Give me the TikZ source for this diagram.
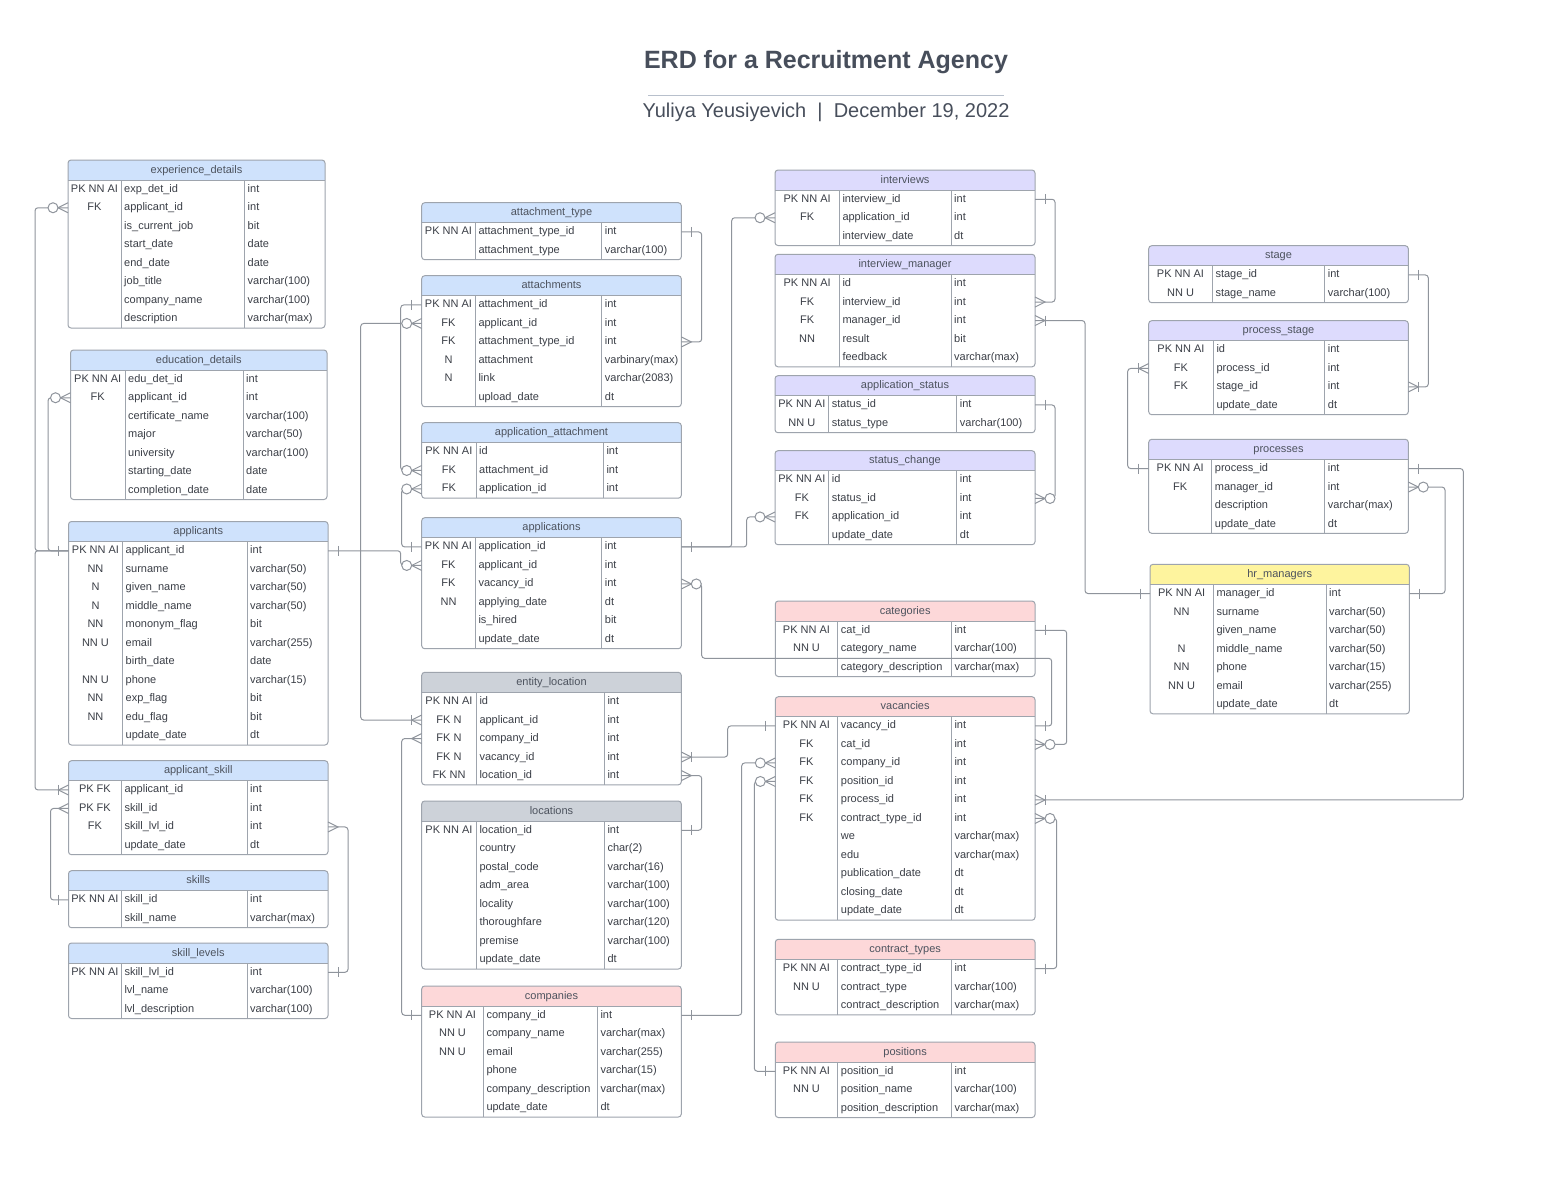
\documentclass[tikz,border=0pt]{standalone}
\usepackage{fontspec}
\setmainfont{Liberation Sans}
\definecolor{hblue}{HTML}{CFE2FC}
\definecolor{hpurple}{HTML}{DDDBFD}
\definecolor{hgray}{HTML}{CDD2D9}
\definecolor{hpink}{HTML}{FDD8D9}
\definecolor{hyellow}{HTML}{FEF49E}
\definecolor{bordercol}{HTML}{9EA4AD}
\definecolor{conncol}{HTML}{8F949C}
\definecolor{celltext}{HTML}{3B3F47}
\definecolor{hdrtextcol}{HTML}{4D535E}
\definecolor{titlecol}{HTML}{474E5B}
\definecolor{rulecol}{HTML}{B8C0CC}
\tikzset{
  cell/.style={inner sep=0pt, text height=8pt, text depth=2pt, font=\fontsize{11}{13}\selectfont, text=celltext},
  hdrtext/.style={inner sep=0pt, text height=8pt, text depth=2pt, font=\fontsize{11}{13}\selectfont, text=hdrtextcol},
  rownode/.style={inner sep=0pt, outer sep=0pt, minimum height=18.5pt, draw=none},
  tblline/.style={draw=bordercol, line width=1pt},
  conn/.style={draw=conncol, line width=1pt},
  link/.style={conn, rounded corners=3pt},
  erone/.pic={\draw[conn] (10,-5) -- (10,5);},
  ermany/.pic={\draw[conn] (0,-5) -- (10,0) -- (0,5);},
  erom/.pic={\draw[conn] (0,-5) -- (10,0) -- (0,5); \draw[conn] (10,-5) -- (10,5);},
  erzm/.pic={\draw[conn] (0,-5) -- (10,0) -- (0,5); \draw[conn, fill=white] (15,0) circle (5pt);},
}
% #1 name, #2 left, #3 right, #4 top, #5 key end, #6 type start, #7 colour, #8 title, #9 rows
\newcommand\ertable[9]{%
  \gdef\ernrows{0}%
  \foreach \dummy [count=\ii] in {#9} {\xdef\ernrows{\ii}}%
  \pgfmathsetmacro\erbot{#4+20+18.5*\ernrows}%
  \pgfmathsetmacro\erW{#3-#2}%
  \pgfmathsetmacro\erhb{#4+20}%
  \fill[white, rounded corners=3pt] (#2,#4) rectangle (#3,\erbot);
  \begin{scope}
    \clip[rounded corners=3pt] (#2,#4) rectangle (#3,\erbot);
    \fill[#7] (#2,#4) rectangle (#3,\erhb);
  \end{scope}
  \draw[tblline] (#2,\erhb) -- (#3,\erhb);
  \draw[tblline] (#5,\erhb) -- (#5,\erbot);
  \draw[tblline] (#6,\erhb) -- (#6,\erbot);
  \draw[tblline, rounded corners=3pt] (#2,#4) rectangle (#3,\erbot);
  \node[hdrtext] at ({(#2+#3)/2},#4+10) {#8};
  \foreach \k/\n/\t [count=\i] in {#9} {
    \pgfmathsetmacro\yy{#4+20+18.5*(\i-0.5)}
    \node[rownode, minimum width=\erW pt] (#1-\i) at ({(#2+#3)/2},\yy) {};
    \node[cell] at ({(#2+#5)/2},\yy) {\k};
    \node[cell, anchor=west] at (#5+3,\yy) {\n};
    \node[cell, anchor=west] at (#6+3,\yy) {\t};
  }
}
\begin{document}
\begin{tikzpicture}[x=1pt, y=-1pt]
\fill[white] (0,0) rectangle (1568,1176);
\useasboundingbox (0,0) rectangle (1568,1176);

% title
\node[font=\bfseries\fontsize{25}{29}\selectfont, text=titlecol] (title) at (826,62) {ERD for a Recruitment Agency};
\draw[draw=rulecol, line width=1pt] (648,95) -- (1004,95);
\node[font=\fontsize{20}{23}\selectfont, text=titlecol] (subtitle) at (826,112) {Yuliya Yeusiyevich\ \ |\ \ December 19, 2022};

% left column
\ertable{exp}{68}{325}{160}{121}{244.5}{hblue}{experience\_details}{PK NN AI/exp\_det\_id/int, FK/applicant\_id/int, /is\_current\_job/bit, /start\_date/date, /end\_date/date, /job\_title/varchar(100), /company\_name/varchar(100), /description/varchar(max)}
\ertable{edu}{70.5}{327}{350}{125}{243}{hblue}{education\_details}{PK NN AI/edu\_det\_id/int, FK/applicant\_id/int, /certificate\_name/varchar(100), /major/varchar(50), /university/varchar(100), /starting\_date/date, /completion\_date/date}
\ertable{app}{68.5}{328}{521.5}{122.5}{247}{hblue}{applicants}{PK NN AI/applicant\_id/int, NN/surname/varchar(50), N/given\_name/varchar(50), N/middle\_name/varchar(50), NN/mononym\_flag/bit, NN U/email/varchar(255), /birth\_date/date, NN U/phone/varchar(15), NN/exp\_flag/bit, NN/edu\_flag/bit, /update\_date/dt}
\ertable{appskill}{68.5}{328}{760.7}{121.3}{247}{hblue}{applicant\_skill}{PK FK/applicant\_id/int, PK FK/skill\_id/int, FK/skill\_lvl\_id/int, /update\_date/dt}
\ertable{skills}{68.5}{328}{870.7}{121.3}{247}{hblue}{skills}{PK NN AI/skill\_id/int, /skill\_name/varchar(max)}
\ertable{skilllv}{68.5}{328}{943}{121.3}{247}{hblue}{skill\_levels}{PK NN AI/skill\_lvl\_id/int, /lvl\_name/varchar(100), /lvl\_description/varchar(100)}

% second column
\ertable{atttype}{421.7}{681.3}{202.7}{475.3}{601.7}{hblue}{attachment\_type}{PK NN AI/attachment\_type\_id/int, /attachment\_type/varchar(100)}
\ertable{att}{421.7}{681.3}{275.7}{475.3}{601.7}{hblue}{attachments}{PK NN AI/attachment\_id/int, FK/applicant\_id/int, FK/attachment\_type\_id/int, N/attachment/varbinary(max), N/link/varchar(2083), /upload\_date/dt}
\ertable{appatt}{421.7}{681.3}{422.7}{476}{603.3}{hblue}{application\_attachment}{PK NN AI/id/int, FK/attachment\_id/int, FK/application\_id/int}
\ertable{apl}{421.7}{681.3}{517.7}{475.3}{601.7}{hblue}{applications}{PK NN AI/application\_id/int, FK/applicant\_id/int, FK/vacancy\_id/int, NN/applying\_date/dt, /is\_hired/bit, /update\_date/dt}
\ertable{entloc}{421.7}{681.3}{672.3}{476.3}{604.3}{hgray}{entity\_location}{PK NN AI/id/int, FK N/applicant\_id/int, FK N/company\_id/int, FK N/vacancy\_id/int, FK NN/location\_id/int}
\ertable{loc}{421.7}{681.3}{801}{476.3}{604.3}{hgray}{locations}{PK NN AI/location\_id/int, /country/char(2), /postal\_code/varchar(16), /adm\_area/varchar(100), /locality/varchar(100), /thoroughfare/varchar(120), /premise/varchar(100), /update\_date/dt}
\ertable{comp}{421.7}{681.3}{986}{483.3}{597.3}{hpink}{companies}{PK NN AI/company\_id/int, NN U/company\_name/varchar(max), NN U/email/varchar(255), /phone/varchar(15), /company\_description/varchar(max), /update\_date/dt}

% third column
\ertable{intv}{775}{1035}{170}{839.3}{951}{hpurple}{interviews}{PK NN AI/interview\_id/int, FK/application\_id/int, /interview\_date/dt}
\ertable{intmgr}{775}{1035}{254.3}{839.3}{951}{hpurple}{interview\_manager}{PK NN AI/id/int, FK/interview\_id/int, FK/manager\_id/int, NN/result/bit, /feedback/varchar(max)}
\ertable{appstat}{775}{1035}{375.7}{828.7}{956.7}{hpurple}{application\_status}{PK NN AI/status\_id/int, NN U/status\_type/varchar(100)}
\ertable{statch}{775}{1035}{450.7}{828.7}{956.7}{hpurple}{status\_change}{PK NN AI/id/int, FK/status\_id/int, FK/application\_id/int, /update\_date/dt}
\ertable{cat}{775.3}{1035}{601}{837.7}{951.3}{hpink}{categories}{PK NN AI/cat\_id/int, NN U/category\_name/varchar(100), /category\_description/varchar(max)}
\ertable{vac}{775.3}{1035}{696.7}{837.7}{951.3}{hpink}{vacancies}{PK NN AI/vacancy\_id/int, FK/cat\_id/int, FK/company\_id/int, FK/position\_id/int, FK/process\_id/int, FK/contract\_type\_id/int, /we/varchar(max), /edu/varchar(max), /publication\_date/dt, /closing\_date/dt, /update\_date/dt}
\ertable{ctype}{775.3}{1035}{939.3}{837.7}{951.3}{hpink}{contract\_types}{PK NN AI/contract\_type\_id/int, NN U/contract\_type/varchar(100), /contract\_description/varchar(max)}
\ertable{pos}{775.3}{1035}{1042}{837.7}{951.3}{hpink}{positions}{PK NN AI/position\_id/int, NN U/position\_name/varchar(100), /position\_description/varchar(max)}

% fourth column
\ertable{stage}{1148.7}{1408.3}{245.7}{1212.3}{1324.7}{hpurple}{stage}{PK NN AI/stage\_id/int, NN U/stage\_name/varchar(100)}
\ertable{procst}{1148.7}{1408.3}{320.7}{1213.3}{1324.7}{hpurple}{process\_stage}{PK NN AI/id/int, FK/process\_id/int, FK/stage\_id/int, /update\_date/dt}
\ertable{proc}{1148.7}{1408.3}{439.3}{1211.7}{1324.7}{hpurple}{processes}{PK NN AI/process\_id/int, FK/manager\_id/int, /description/varchar(max), /update\_date/dt}
\ertable{hrm}{1150}{1409.3}{564.3}{1213.3}{1326}{hyellow}{hr\_managers}{PK NN AI/manager\_id/int, NN/surname/varchar(50), /given\_name/varchar(50), N/middle\_name/varchar(50), NN/phone/varchar(15), NN U/email/varchar(255), /update\_date/dt}

% connectors
\draw[link] (exp-2.west) -- ++(-33,0) |- (app-1.west);
\draw[link] (edu-2.west) -- ++(-22.5,0) |- (app-1.west);
\draw[link] (app-1.west) -- ++(-33.5,0) |- (appskill-1.west);
\draw[link] (appskill-2.west) -- ++(-18,0) |- (skills-1.west);
\draw[link] (appskill-3.east) -- ++(20,0) |- (skilllv-1.east);
\draw[link] (app-1.east) -- ++(72.7,0) |- (apl-2.west);
\draw[link] (att-2.west) -- ++(-61,0) |- (entloc-2.west);
\draw[link] (att-1.west) -- ++(-21,0) |- (appatt-2.west);
\draw[link] (atttype-1.east) -- ++(20.4,0) |- (att-3.east);
\draw[link] (appatt-3.west) -- ++(-20,0) |- (apl-1.west);
\draw[link] (apl-1.east) -- ++(50.4,0) |- (intv-2.west);
\draw[link] (apl-1.east) -- ++(65.4,0) |- (statch-3.west);
\coordinate (c9turn) at (1051.7,658.3);
\draw[link] (apl-3.east) -- ++(20.4,0) |- (c9turn) |- (vac-1.east);
\draw[link] (entloc-3.west) -- ++(-20,0) |- (comp-1.west);
\draw[link] (entloc-4.east) -- ++(46.4,0) |- (vac-1.west);
\draw[link] (entloc-5.east) -- ++(20.4,0) |- (loc-1.east);
\draw[link] (comp-1.east) -- ++(60.4,0) |- (vac-3.west);
\draw[link] (vac-4.west) -- ++(-21,0) |- (pos-1.west);
\draw[link] (intv-1.east) -- ++(20,0) |- (intmgr-2.east);
\draw[link] (intmgr-3.east) -- ++(50,0) |- (hrm-1.west);
\draw[link] (appstat-1.east) -- ++(20,0) |- (statch-2.east);
\draw[link] (cat-1.east) -- ++(31.7,0) |- (vac-2.east);
\draw[link] (vac-5.east) -- ++(428.3,0) |- (proc-1.east);
\draw[link] (vac-6.east) -- ++(21.7,0) |- (ctype-1.east);
\draw[link] (stage-1.east) -- ++(20,0) |- (procst-3.east);
\draw[link] (procst-2.west) -- ++(-21,0) |- (proc-1.west);
\draw[link] (proc-2.east) -- ++(36.7,0) |- (hrm-1.east);

% end markers
\pic[xscale=-1] at (exp-2.west) {erzm};
\pic[xscale=-1] at (edu-2.west) {erzm};
\pic[xscale=-1] at (app-1.west) {erone};
\pic[xscale=-1] at (appskill-1.west) {erom};
\pic[xscale=-1] at (appskill-2.west) {ermany};
\pic[xscale=-1] at (skills-1.west) {erone};
\pic at (appskill-3.east) {ermany};
\pic at (skilllv-1.east) {erone};
\pic at (app-1.east) {erone};
\pic[xscale=-1] at (apl-2.west) {erzm};
\pic[xscale=-1] at (att-2.west) {erzm};
\pic[xscale=-1] at (entloc-2.west) {erom};
\pic[xscale=-1] at (att-1.west) {erone};
\pic[xscale=-1] at (appatt-2.west) {erzm};
\pic at (atttype-1.east) {erone};
\pic at (att-3.east) {ermany};
\pic[xscale=-1] at (appatt-3.west) {erzm};
\pic[xscale=-1] at (apl-1.west) {erone};
\pic at (apl-1.east) {erone};
\pic[xscale=-1] at (intv-2.west) {erzm};
\pic[xscale=-1] at (statch-3.west) {erzm};
\pic at (apl-3.east) {erzm};
\pic at (vac-1.east) {erone};
\pic[xscale=-1] at (entloc-3.west) {ermany};
\pic[xscale=-1] at (comp-1.west) {erone};
\pic at (entloc-4.east) {erom};
\pic[xscale=-1] at (vac-1.west) {erone};
\pic at (entloc-5.east) {ermany};
\pic at (loc-1.east) {erone};
\pic at (comp-1.east) {erone};
\pic[xscale=-1] at (vac-3.west) {erzm};
\pic[xscale=-1] at (vac-4.west) {erzm};
\pic[xscale=-1] at (pos-1.west) {erone};
\pic at (intv-1.east) {erone};
\pic at (intmgr-2.east) {ermany};
\pic at (intmgr-3.east) {erom};
\pic[xscale=-1] at (hrm-1.west) {erone};
\pic at (appstat-1.east) {erone};
\pic at (statch-2.east) {erzm};
\pic at (cat-1.east) {erone};
\pic at (vac-2.east) {erzm};
\pic at (vac-5.east) {erom};
\pic at (proc-1.east) {erone};
\pic at (vac-6.east) {erzm};
\pic at (ctype-1.east) {erone};
\pic at (stage-1.east) {erone};
\pic at (procst-3.east) {erom};
\pic[xscale=-1] at (procst-2.west) {erom};
\pic[xscale=-1] at (proc-1.west) {erone};
\pic at (proc-2.east) {erzm};
\pic at (hrm-1.east) {erone};
\end{tikzpicture}
\end{document}
